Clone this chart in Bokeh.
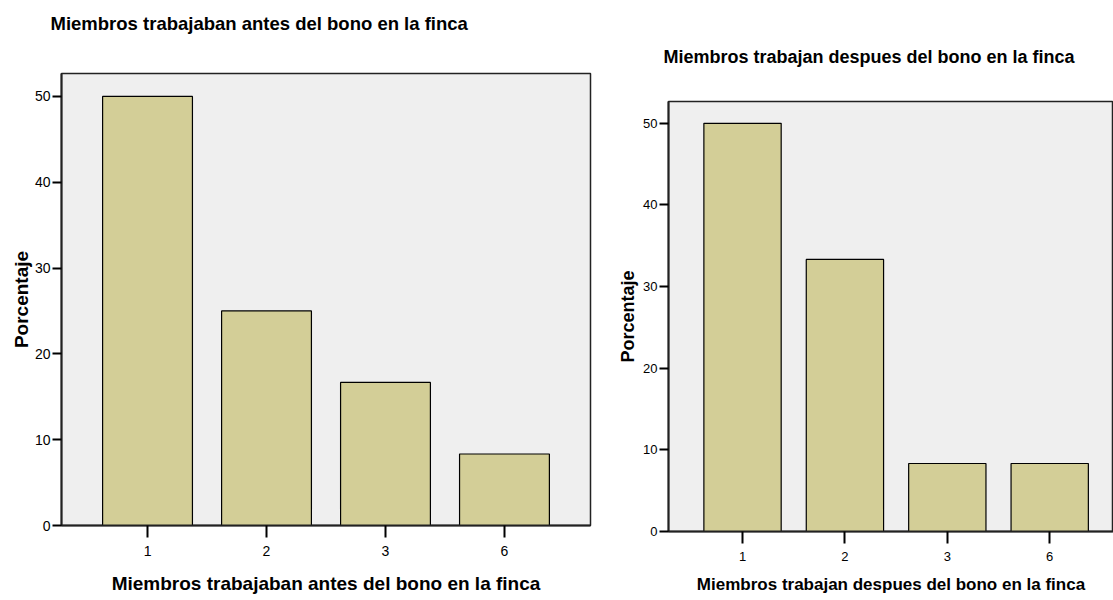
from bokeh.plotting import figure
from bokeh.models import Range1d, FixedTicker, ColumnDataSource, Spacer
from bokeh.layouts import row, column
from bokeh.embed import file_html
from bokeh.resources import INLINE

# ---- data ----
categories = ["1", "2", "3", "6"]
antes = [50.0, 25.0, 16.67, 8.33]
despues = [50.0, 33.33, 8.33, 8.33]
y_ticks = [0, 10, 20, 30, 40, 50]

title_antes = "Miembros trabajaban antes del bono en la finca"
title_despues = "Miembros trabajan despues del bono en la finca"
y_label = "Porcentaje"

FONT = "Liberation Sans"
BAR = "#D3CE97"
BG = "#EFEFEF"
H = 599          # page height used
LIFT = 30        # left figure canvas starts above the page top
SHIFT = 9        # right figure canvas starts below the page top


def make_chart(values, title, width, height, x_start, x_end, borders, fs):
    pos = list(range(1, len(categories) + 1))
    src = ColumnDataSource(dict(x=pos, top=values, label=categories))
    p = figure(width=width, height=height,
               x_range=Range1d(x_start, x_end), y_range=Range1d(0, 52.67),
               output_backend="svg", toolbar_location=None,
               min_border_left=borders[0], min_border_right=borders[1],
               min_border_top=borders[2], min_border_bottom=borders[3])
    p.vbar(x="x", top="top", width=0.755, bottom=0, source=src,
           fill_color=BAR, line_color="black", line_width=1.2)

    p.background_fill_color = BG
    p.border_fill_color = "white"
    p.outline_line_color = "#222222"
    p.outline_line_width = 1.5
    p.xgrid.visible = False
    p.ygrid.visible = False

    p.title.text = title
    p.title.text_font = FONT
    p.title.text_font_size = fs["title"]
    p.title.text_font_style = "bold"
    p.title.text_color = "black"
    p.title.align = "left"
    p.title.offset = fs["title_offset"]
    p.title.standoff = fs["title_standoff"]

    # x axis
    xa = p.xaxis[0]
    xa.ticker = FixedTicker(ticks=pos)
    xa.major_label_overrides = {i: c for i, c in zip(pos, categories)}
    xa.minor_tick_line_color = None
    xa.major_tick_out = 12
    xa.major_tick_in = 0
    xa.major_tick_line_width = 2
    xa.axis_line_width = 2
    xa.axis_line_color = "#222222"
    xa.major_label_text_font = FONT
    xa.major_label_text_font_size = fs["tick"]
    xa.major_label_text_color = "black"
    xa.major_label_standoff = 8
    xa.axis_label = title
    xa.axis_label_text_font = FONT
    xa.axis_label_text_font_size = fs["xlabel"]
    xa.axis_label_text_font_style = "bold"
    xa.axis_label_text_color = "black"
    xa.axis_label_standoff = fs["xlabel_standoff"]

    # y axis
    ya = p.yaxis[0]
    ya.ticker = FixedTicker(ticks=y_ticks)
    ya.minor_tick_line_color = None
    ya.major_tick_out = 9
    ya.major_tick_in = 0
    ya.major_tick_line_width = 2
    ya.axis_line_width = 2
    ya.axis_line_color = "#222222"
    ya.major_label_text_font = FONT
    ya.major_label_text_font_size = fs["tick"]
    ya.major_label_text_color = "black"
    ya.major_label_standoff = 2
    ya.axis_label = y_label
    ya.axis_label_text_font = FONT
    ya.axis_label_text_font_size = fs["ylabel"]
    ya.axis_label_text_font_style = "bold"
    ya.axis_label_text_color = "black"
    ya.axis_label_standoff = fs["ylabel_standoff"]
    return p


H1 = H + LIFT
p1 = make_chart(antes, title_antes, 615, H1, 0.277, 4.723,
                (61, 25, 72 + LIFT, H1 - (525 + LIFT)),
                dict(title="18.5px", title_offset=-11, title_standoff=80,
                     tick="14px", xlabel="19px", xlabel_standoff=14,
                     ylabel="19px", ylabel_standoff=0))
p1.margin = (-LIFT, 0, 0, 0)

H2 = H - SHIFT
p2 = make_chart(despues, title_despues, 498, H2, 0.277, 4.623,
                (53, 0, 101 - SHIFT, H2 - (531 - SHIFT)),
                dict(title="18px", title_offset=-5, title_standoff=69,
                     tick="13px", xlabel="17px", xlabel_standoff=11,
                     ylabel="18px", ylabel_standoff=2))

layout = row(p1, column(Spacer(width=498, height=SHIFT), p2))
open("out.html", "w").write(file_html(layout, INLINE))
